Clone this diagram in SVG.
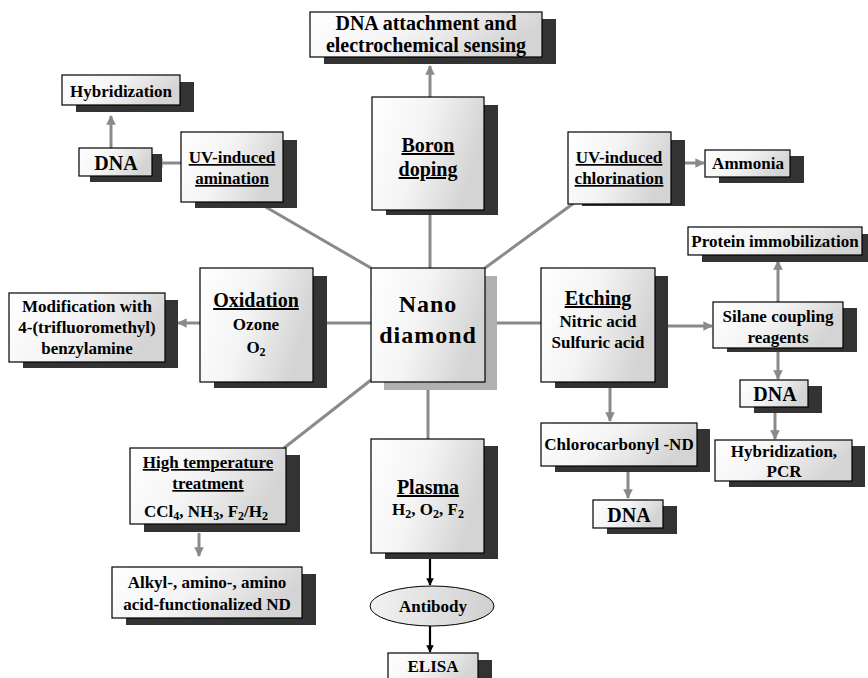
<svg xmlns="http://www.w3.org/2000/svg" width="868" height="678" viewBox="0 0 868 678" font-family="'Liberation Serif', 'DejaVu Serif', serif">
<defs>
<linearGradient id="g" x1="0" y1="0" x2="1" y2="0.3">
<stop offset="0" stop-color="#ffffff"/>
<stop offset="0.5" stop-color="#f4f4f4"/>
<stop offset="1" stop-color="#d4d4d4"/>
</linearGradient>
<linearGradient id="ge" x1="0" y1="0" x2="1" y2="0">
<stop offset="0" stop-color="#f2f2f2"/>
<stop offset="1" stop-color="#d0d0d0"/>
</linearGradient>
<marker id="ag" viewBox="0 0 10 10" refX="9" refY="5" markerWidth="3.2" markerHeight="3.2" orient="auto">
<path d="M0,0 L10,5 L0,10 z" fill="#8a8a8a"/>
</marker>
<marker id="ak" viewBox="0 0 10 10" refX="9" refY="5" markerWidth="3.4" markerHeight="3.4" orient="auto">
<path d="M0,0 L10,5 L0,10 z" fill="#000"/>
</marker>
</defs>
<style>
.b{fill:url(#g);stroke:#000;stroke-width:1.2}
.s{fill:#333}
.sl{fill:#b0b0b0}
text{font-family:'Liberation Serif','DejaVu Serif',serif;font-weight:bold;fill:#000;text-anchor:middle;font-size:17px}
.h{font-size:20px}
.n{font-size:24px;letter-spacing:1px}
.u{text-decoration:underline}
.c{stroke:#8a8a8a;stroke-width:3;fill:none}
.ca{stroke:#8a8a8a;stroke-width:3;fill:none;marker-end:url(#ag)}
.ck{stroke:#000;stroke-width:2.2;fill:none;marker-end:url(#ak)}
</style>
<rect width="868" height="678" fill="#fff"/>

<g id="connectors">
<line class="ca" x1="430" y1="97" x2="430" y2="66"/>
<line class="c" x1="430" y1="210" x2="430" y2="268"/>
<line class="c" x1="264" y1="206" x2="371" y2="268"/>
<line class="ca" x1="181" y1="163" x2="154" y2="163"/>
<line class="ca" x1="111" y1="148" x2="111" y2="116"/>
<line class="c" x1="574" y1="203" x2="485" y2="268"/>
<line class="ca" x1="671" y1="163" x2="704" y2="163"/>
<line class="c" x1="313" y1="323" x2="371" y2="323"/>
<line class="ca" x1="200" y1="323" x2="178" y2="323"/>
<line class="c" x1="485" y1="323" x2="541" y2="323"/>
<line class="ca" x1="655" y1="326" x2="712" y2="326"/>
<line class="ca" x1="778" y1="302" x2="778" y2="261"/>
<line class="ca" x1="778" y1="348" x2="778" y2="379"/>
<line class="ca" x1="775" y1="413" x2="775" y2="439"/>
<line class="ca" x1="610" y1="388" x2="610" y2="421"/>
<line class="ca" x1="628" y1="472" x2="628" y2="498"/>
<line class="c" x1="371" y1="380" x2="284" y2="448"/>
<line class="c" x1="428" y1="390" x2="428" y2="439"/>
<line class="ca" x1="199" y1="533" x2="199" y2="556"/>
<line class="ck" x1="430" y1="559" x2="430" y2="585"/>
<line class="ck" x1="430" y1="626" x2="430" y2="652"/>
</g>

<g id="dna-attachment">
<rect class="s" x="324" y="19" width="232" height="45"/>
<rect class="b" x="310" y="12" width="232" height="45"/>
<text class="h" x="426" y="30">DNA attachment and</text>
<text class="h" x="426" y="52">electrochemical sensing</text>
</g>

<g id="hybridization-top">
<rect class="s" x="76" y="82" width="118" height="30"/>
<rect class="b" x="62" y="75" width="118" height="30"/>
<text x="121" y="97">Hybridization</text>
</g>

<g id="dna-left">
<rect class="s" x="90" y="154" width="72" height="28"/>
<rect class="b" x="79" y="148" width="73" height="28"/>
<text class="h" x="116" y="170">DNA</text>
</g>

<g id="uv-amination">
<rect class="s" x="195" y="140" width="102" height="68"/>
<rect class="b" x="181" y="132" width="102" height="70"/>
<text class="u" x="232" y="163">UV-induced</text>
<text class="u" x="232" y="184">amination</text>
</g>

<g id="boron-doping">
<rect class="s" x="386" y="105" width="112" height="110"/>
<rect class="b" x="372" y="97" width="112" height="113"/>
<text class="u h" x="428" y="152">Boron</text>
<text class="u h" x="428" y="176">doping</text>
</g>

<g id="uv-chlorination">
<rect class="s" x="582" y="140" width="103" height="66"/>
<rect class="b" x="568" y="132" width="103" height="72"/>
<text class="u" x="619" y="163">UV-induced</text>
<text class="u" x="619" y="184">chlorination</text>
</g>

<g id="ammonia">
<rect class="s" x="719" y="156" width="85" height="27"/>
<rect class="b" x="705" y="150" width="85" height="27"/>
<text x="748" y="169">Ammonia</text>
</g>

<g id="protein-immobilization">
<rect class="s" x="702" y="234" width="166" height="28"/>
<rect class="b" x="688" y="227" width="174" height="28"/>
<text x="775" y="247">Protein immobilization</text>
</g>

<g id="oxidation">
<rect class="s" x="214" y="276" width="113" height="112"/>
<rect class="b" x="200" y="268" width="113" height="114"/>
<text class="u h" x="256" y="307">Oxidation</text>
<text x="256" y="330">Ozone</text>
<text x="256" y="353">O<tspan font-size="12" dy="3">2</tspan></text>
</g>

<g id="modification">
<rect class="s" x="23" y="300" width="155" height="68"/>
<rect class="b" x="9" y="293" width="156" height="69"/>
<text x="87" y="312">Modification with</text>
<text x="87" y="333">4-(trifluoromethyl)</text>
<text x="87" y="354">benzylamine</text>
</g>

<g id="nano-diamond">
<rect class="sl" x="384" y="276" width="113" height="114"/>
<rect class="b" x="371" y="268" width="114" height="114"/>
<text class="n" x="428" y="312">Nano</text>
<text class="n" x="428" y="343">diamond</text>
</g>

<g id="etching">
<rect class="s" x="555" y="276" width="113" height="112"/>
<rect class="b" x="541" y="268" width="114" height="114"/>
<text class="u h" x="598" y="305">Etching</text>
<text x="598" y="327">Nitric acid</text>
<text x="598" y="348">Sulfuric acid</text>
</g>

<g id="silane">
<rect class="s" x="727" y="308" width="130" height="44"/>
<rect class="b" x="713" y="302" width="130" height="46"/>
<text x="778" y="322">Silane coupling</text>
<text x="778" y="343">reagents</text>
</g>

<g id="dna-right">
<rect class="s" x="754" y="386" width="68" height="27"/>
<rect class="b" x="740" y="380" width="68" height="27"/>
<text class="h" x="775" y="401">DNA</text>
</g>

<g id="hybridization-pcr">
<rect class="s" x="729" y="446" width="136" height="41"/>
<rect class="b" x="715" y="440" width="137" height="41"/>
<text x="784" y="457">Hybridization,</text>
<text x="784" y="477">PCR</text>
</g>

<g id="chlorocarbonyl">
<rect class="s" x="555" y="429" width="155" height="43"/>
<rect class="b" x="541" y="423" width="156" height="43"/>
<text x="619" y="450">Chlorocarbonyl -ND</text>
</g>

<g id="dna-bottom">
<rect class="s" x="607" y="506" width="70" height="28"/>
<rect class="b" x="593" y="500" width="70" height="28"/>
<text class="h" x="629" y="522">DNA</text>
</g>

<g id="high-temperature">
<rect class="s" x="144" y="455" width="156" height="77"/>
<rect class="b" x="130" y="448" width="156" height="76"/>
<text class="u" x="208" y="468">High temperature</text>
<text class="u" x="208" y="489">treatment</text>
<text x="206" y="517">CCl<tspan font-size="12" dy="3">4</tspan><tspan dy="-3">, NH</tspan><tspan font-size="12" dy="3">3</tspan><tspan dy="-3">, F</tspan><tspan font-size="12" dy="3">2</tspan><tspan dy="-3">/H</tspan><tspan font-size="12" dy="3">2</tspan></text>
</g>

<g id="functionalized-nd">
<rect class="s" x="126" y="574" width="190" height="51"/>
<rect class="b" x="112" y="567" width="190" height="51"/>
<text x="207" y="588">Alkyl-, amino-, amino</text>
<text x="207" y="610">acid-functionalized ND</text>
</g>

<g id="plasma">
<rect class="s" x="385" y="446" width="113" height="113"/>
<rect class="b" x="371" y="439" width="113" height="114"/>
<text class="u h" x="428" y="494">Plasma</text>
<text x="428" y="515">H<tspan font-size="12" dy="3">2</tspan><tspan dy="-3">, O</tspan><tspan font-size="12" dy="3">2</tspan><tspan dy="-3">, F</tspan><tspan font-size="12" dy="3">2</tspan></text>
</g>

<g id="antibody">
<ellipse cx="432" cy="606" rx="62" ry="20" fill="url(#ge)" stroke="#000" stroke-width="1"/>
<text x="433" y="612">Antibody</text>
</g>

<g id="elisa">
<rect class="s" x="402" y="660" width="90" height="20"/>
<rect class="b" x="388" y="653" width="90" height="30"/>
<text x="433" y="672">ELISA</text>
</g>
</svg>
